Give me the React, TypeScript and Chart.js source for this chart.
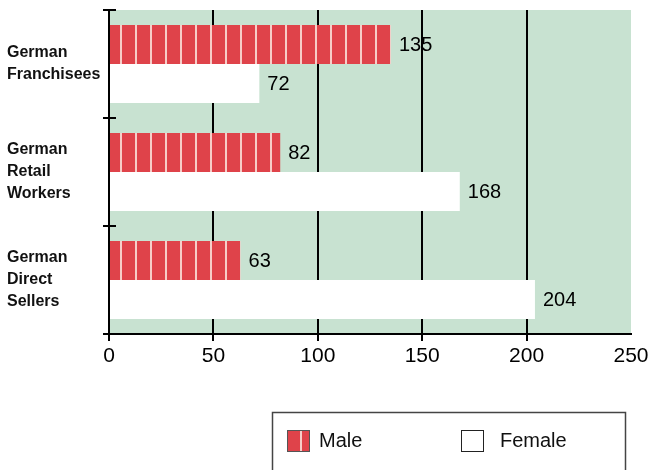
import React, { useEffect, useRef } from 'react';
import { Chart, registerables } from 'chart.js';

Chart.register(...registerables);

// ---- data ----
const categories: string[][] = [
  ['German', 'Franchisees'],
  ['German', 'Retail', 'Workers'],
  ['German', 'Direct', 'Sellers'],
];
const seriesNames: string[] = ['Male', 'Female'];
const maleValues: number[] = [135, 82, 63];
const femaleValues: number[] = [72, 168, 204];
const xTicks: number[] = [0, 50, 100, 150, 200, 250];

// ---- styles ----
const RED = '#df434a';
const STRIPE = '#f7cdc8';
const GREEN = '#c8e2d1';
const SANS = "'Liberation Sans', Arial, sans-serif";

function makePattern(ctx: CanvasRenderingContext2D): CanvasPattern | string {
  const c = document.createElement('canvas');
  c.width = 15;
  c.height = 10;
  const g = c.getContext('2d');
  if (!g) return RED;
  g.fillStyle = RED;
  g.fillRect(0, 0, 15, 10);
  g.fillStyle = STRIPE;
  g.fillRect(0, 0, 2, 10);
  return ctx.createPattern(c, 'repeat') || RED;
}

const bgPlugin = {
  id: 'greenBg',
  beforeDraw(chart: any) {
    const { ctx, chartArea } = chart;
    ctx.save();
    ctx.fillStyle = GREEN;
    ctx.fillRect(chartArea.left, chartArea.top, chartArea.right - chartArea.left, chartArea.bottom - chartArea.top);
    ctx.restore();
  },
};

const valueLabels = {
  id: 'valueLabels',
  afterDatasetsDraw(chart: any) {
    const { ctx } = chart;
    ctx.save();
    ctx.font = `20px ${SANS}`;
    ctx.fillStyle = '#000';
    ctx.textAlign = 'left';
    ctx.textBaseline = 'middle';
    chart.data.datasets.forEach((ds: any, di: number) => {
      const meta = chart.getDatasetMeta(di);
      meta.data.forEach((el: any, i: number) => {
        ctx.fillText(String(ds.data[i]), el.x + 8, el.y + 1);
      });
    });
    ctx.restore();
  },
};

const crossTicks = {
  id: 'crossTicks',
  afterDraw(chart: any) {
    const y = chart.scales.y;
    const n = chart.data.labels.length;
    const { ctx } = chart;
    ctx.save();
    ctx.strokeStyle = '#000';
    ctx.lineWidth = 2;
    for (let i = 0; i < n; i++) {
      const p = y.top + ((y.bottom - y.top) * i) / n;
      ctx.beginPath();
      ctx.moveTo(chart.chartArea.left, p);
      ctx.lineTo(chart.chartArea.left + 7, p);
      ctx.stroke();
    }
    ctx.restore();
  },
};

const boxLegend = {
  id: 'boxLegend',
  afterDraw(chart: any) {
    const { ctx } = chart;
    const ds = chart.data.datasets;
    ctx.save();
    ctx.strokeStyle = '#444';
    ctx.lineWidth = 1.5;
    ctx.strokeRect(272.5, 412.5, 353, 80);
    const items = [
      { x: 287, tx: 319 },
      { x: 461, tx: 500 },
    ];
    items.forEach((it, i) => {
      ctx.fillStyle = ds[i].backgroundColor;
      ctx.fillRect(it.x, 430, 23, 22);
      ctx.strokeStyle = i === 0 ? '#555' : '#222';
      ctx.lineWidth = 1;
      ctx.strokeRect(it.x + 0.5, 430.5, 22, 21);
      ctx.fillStyle = '#111';
      ctx.font = `20px ${SANS}`;
      ctx.textBaseline = 'middle';
      ctx.textAlign = 'left';
      ctx.fillText(ds[i].label, it.tx, 441);
    });
    ctx.restore();
  },
};

export default function App() {
  const ref = useRef<HTMLCanvasElement | null>(null);

  useEffect(() => {
    const canvas = ref.current;
    if (!canvas) return;
    const ctx = canvas.getContext('2d');
    if (!ctx) return;
    const pattern = makePattern(ctx);
    const xMin = xTicks[0];
    const xMax = xTicks[xTicks.length - 1];

    const chart = new Chart(canvas, {
      type: 'bar',
      data: {
        labels: categories,
        datasets: [
          {
            label: seriesNames[0],
            data: maleValues,
            backgroundColor: pattern as any,
            borderWidth: 0,
            categoryPercentage: 0.72,
            barPercentage: 1,
          },
          {
            label: seriesNames[1],
            data: femaleValues,
            backgroundColor: '#ffffff',
            borderWidth: 0,
            categoryPercentage: 0.72,
            barPercentage: 1,
          },
        ],
      },
      options: {
        indexAxis: 'y',
        responsive: false,
        animation: false,
        layout: { padding: { left: 7, top: 10, right: 18, bottom: 0 } },
        plugins: { legend: { display: false }, tooltip: { enabled: false } },
        scales: {
          x: {
            type: 'linear',
            min: xMin,
            max: xMax,
            afterBuildTicks: (s: any) => {
              s.ticks = xTicks.map((v) => ({ value: v }));
            },
            ticks: { color: '#000', font: { family: SANS, size: 21 }, padding: 3, maxRotation: 0 },
            grid: {
              color: (c: any) => (c.tick && c.tick.value === xMax ? 'rgba(0,0,0,0)' : '#000'),
              lineWidth: 2,
              tickLength: 7,
            },
            border: { display: true, color: '#000', width: 2, z: 1 },
            afterFit: (s: any) => {
              s.height = 136;
              s.paddingLeft = 0;
              s.paddingRight = 0;
            },
          },
          y: {
            type: 'category',
            ticks: {
              color: '#111',
              font: { family: SANS, size: 16, weight: 'bold', lineHeight: 1.375 },
              crossAlign: 'far',
            },
            grid: { drawOnChartArea: false, color: '#000', lineWidth: 2, tickLength: 6, offset: true },
            border: { display: true, color: '#000', width: 2, z: 1 },
            afterFit: (s: any) => {
              s.width = 102;
              s.paddingTop = 0;
              s.paddingBottom = 0;
            },
          },
        },
      } as any,
      plugins: [bgPlugin, valueLabels, crossTicks, boxLegend],
    });
    return () => chart.destroy();
  }, []);

  return (
    <div style={{ position: 'fixed', left: 0, top: 0, width: 649, height: 470, background: '#fff' }}>
      <canvas ref={ref} width={649} height={470} style={{ display: 'block' }} />
    </div>
  );
}
